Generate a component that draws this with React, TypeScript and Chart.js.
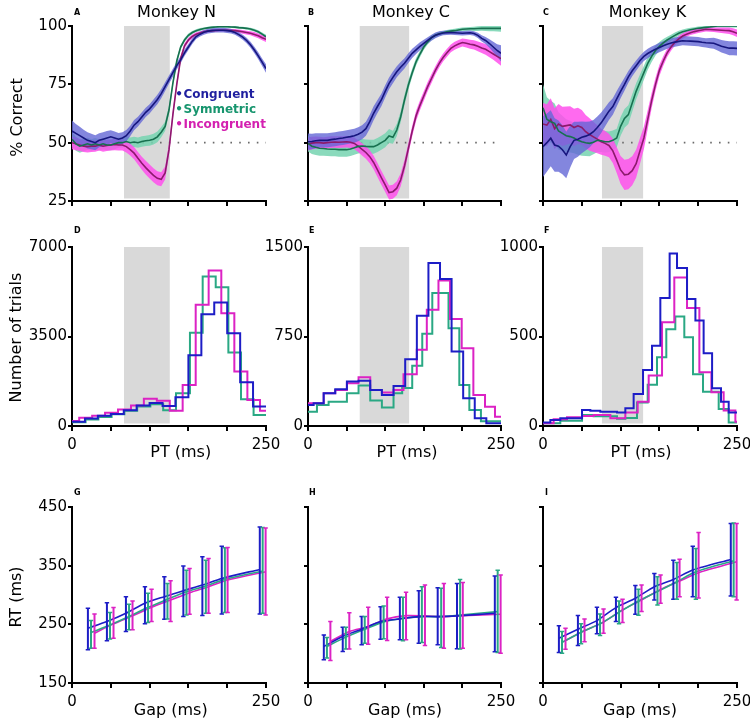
import React, { useEffect, useRef } from "react";
import { Chart, registerables } from "chart.js";
Chart.register(...registerables);

// ---------- shared axis values ----------
const PT = [0,5,10,15,20,25,30,35,40,45,50,55,60,65,70,75,80,85,90,95,100,105,110,115,120,125,130,135,140,145,150,155,160,165,170,175,180,185,190,195,200,205,210,215,220,225,230,235,240,245,250];

// ---------- Row 1: % correct vs PT (mean and s.e. half-width) ----------
const A_CONG = [55,54,53,52,51,50.5,50,51,51.5,52,52.5,52,51.5,52,53,55,57.5,59,61,63,64.5,66.5,68.5,71,74,77,80,83,85.5,88.5,91,93.5,95.5,96.5,97.3,97.8,98,98.2,98.2,98.2,98,97.8,97.2,96.3,95.2,93.8,92,89.7,87.2,84.5,81.8];
const A_CONG_SE = [4.5,4,3.8,3.5,3.5,3.3,3.2,3,3,3,2.8,2.8,2.6,2.5,2.4,2.3,2.2,2.1,2,2,2,2,2,2,1.9,1.8,1.7,1.6,1.5,1.4,1.3,1.2,1.1,1,1,1,1,1,1,1,1,1,1,1,1.1,1.2,1.3,1.4,1.5,1.6,1.8];
const A_SYM = [51.5,49.5,48.5,49,49.5,49,49.5,49,49.5,49,49,49.5,50,50,50.5,50,50.3,50,50.5,50.8,51,51.5,52.5,54.5,57,64,75.5,85,91,94,96,97.2,98,98.5,98.9,99.2,99.4,99.6,99.7,99.7,99.7,99.6,99.5,99.3,99.2,99,98.7,98.2,97.5,96.5,95.4];
const A_SYM_SE = [3,3,2.8,2.7,2.6,2.5,2.5,2.4,2.4,2.3,2.3,2.3,2.2,2.2,2.2,2.2,2.2,2.2,2.2,2.2,2.3,2.3,2.3,2.2,2,1.8,1.5,1.2,1,0.9,0.8,0.7,0.6,0.6,0.5,0.5,0.5,0.5,0.5,0.5,0.5,0.5,0.5,0.5,0.5,0.5,0.6,0.6,0.7,0.7,0.8];
const A_INC = [50,49.5,49,48.5,48.3,48.5,48.5,49,48.5,48.8,49,49.2,49,49,48.3,47,45.5,43.3,41.2,39.3,37.6,36,34.7,34.3,37,47,62,75,86,91.5,94,95.5,96.5,97,97.5,97.8,98,98.1,98.2,98.2,98.2,98.1,98,97.8,97.5,97.2,96.9,96.4,95.8,95,94.3];
const A_INC_SE = [2.8,2.7,2.6,2.5,2.5,2.5,2.4,2.4,2.4,2.4,2.4,2.4,2.4,2.4,2.5,2.5,2.6,2.7,2.8,2.9,3,3,3,3,2.8,2.5,2,1.6,1.3,1.1,1,0.9,0.8,0.7,0.7,0.6,0.6,0.6,0.6,0.6,0.6,0.6,0.7,0.7,0.8,0.8,0.9,1,1,1.1,1.2];

const B_CONG = [50.4,50.5,50.8,51,51,51,51.3,51.5,51.8,52,52.3,52.6,53,53.6,54.5,56,59,62.6,65.5,68.3,72,75.4,78,80.4,82.3,84,86.2,88.3,89.8,91.3,92.6,93.8,95,96,96.6,97,97.1,97.2,97.1,97,96.9,97,97.1,96.8,96,94.7,93.8,92.5,91,89.5,88.3];
const B_CONG_SE = [3.5,3.3,3.2,3,3,3,3,3,3,3,3,3,3,3,3,3,3,3,2.8,2.7,2.6,2.5,2.5,2.4,2.3,2.2,2.1,2,1.8,1.7,1.5,1.4,1.3,1.2,1.1,1,1,1,1,1,1,1,1,1,1.1,1.3,1.5,1.8,2.2,2.7,3.5];
const B_SYM = [49.7,48.5,48,47.6,47.5,47.3,47.2,47.2,47,47,47,47.3,47.8,48.4,48.6,48.4,48.3,48.3,49,50,51,52.9,52.3,55.4,61,68.3,74.7,80,84.7,88,91,93.2,95,96,96.7,97.1,97.5,97.8,98,98.3,98.6,98.7,98.8,98.8,98.9,99,99,99,99,99,99];
const B_SYM_SE = [3.5,3.4,3.3,3.2,3.1,3,3,3,3,3,3,3,3,3,3,3,3,3,3,3,3,3,2.8,2.6,2.4,2.2,2,1.8,1.6,1.4,1.2,1.1,1,0.9,0.8,0.8,0.8,0.8,0.8,0.8,0.8,0.8,0.8,0.9,1,1,1.1,1.2,1.3,1.4,1.5];
const B_INC = [49.4,49.8,50,50,49.8,50,50.2,50.3,50.2,50.3,50.4,50.2,49.7,48.5,47.1,45.8,44,41.5,38.3,35,31.9,28.6,29,30.5,34,40,47.5,55,61.5,66,70,74,77.5,81,84,86.5,88.5,90.4,91.5,92.3,92.9,92.6,92.2,91.9,91.3,90.6,90,89,88,87,86];
const B_INC_SE = [2.8,2.7,2.6,2.5,2.5,2.5,2.5,2.5,2.5,2.5,2.5,2.5,2.5,2.5,2.6,2.7,2.8,2.9,3,3,3,3,3,3,2.8,2.6,2.4,2.3,2.2,2.1,2,2,1.9,1.8,1.8,1.7,1.7,1.7,1.7,1.7,1.7,1.8,1.9,2,2.1,2.2,2.3,2.4,2.5,2.7,3];

const C_CONG = [48.3,50,51.9,49,48.5,47,44.7,48.3,51,51.5,52.3,52.8,53.5,54.7,56.5,58.5,61,63.5,65.5,68.8,72,75,78.2,80.8,83,85.2,87,88.2,89.2,90,90.8,91.5,92.2,92.7,93.1,93.4,93.7,93.6,93.5,93.4,93.3,93,92.8,92.7,92.6,92,91.3,90.9,90.5,90.5,90.4];
const C_CONG_SE = [13,12.5,12,11.5,11,10.5,10,9,8,7.5,6.8,6.2,5.6,5,4.7,4.4,4.1,3.8,3.5,3.3,3,2.8,2.5,2.3,2.2,2,2,2,2,2,2,2,2,2,2,2,2,2,2,2,2,2,2,2.2,2.4,2.5,2.7,2.8,3,3,3];
const C_SYM = [65,60,59,58.3,55,54,53,52.6,52,51,50.4,50,49.7,50.2,51,50.8,50.4,50.4,51,52,57,60.4,62,67,72,76,80,84,87,89.5,91.3,92.8,94,95,96,96.9,97.5,98,98.4,98.7,99,99.2,99.4,99.6,99.8,100,100,100,100,100,100];
const C_SYM_SE = [10,9.5,9,8.5,8,7.5,7,6.8,6.5,6.2,6,5.7,5.5,5.2,5,4.8,4.6,4.4,4.2,4,4,4,4,3.8,3.5,3.2,3,2.7,2.4,2.1,1.8,1.6,1.4,1.3,1.2,1.1,1,0.9,0.9,0.8,0.8,0.7,0.7,0.6,0.6,0.6,0.6,0.6,0.6,0.6,0.6];
const C_INC = [58,57.5,60,56,58,57,57.3,57.6,56.5,57.2,56.5,54.7,53.5,52.5,51.5,50.4,49.7,48.8,46.5,42.5,38.3,36.2,36.5,38,41,46.5,52,60,68,75,81,85,88.5,91,93,94.5,95.7,96.5,97.1,97.6,98,98.3,98.6,98.5,98.4,98.3,98.2,98.1,98,97.5,96.9];
const C_INC_SE = [9,9,9,8.8,8.6,8.4,8.2,8,8,7.8,7.5,7.2,7,6.5,6,5.6,5.3,5,5.2,5.5,6,6.5,6.5,6.2,6,5.5,4.8,4,3.3,2.8,2.4,2,1.8,1.6,1.4,1.3,1.2,1.1,1,1,1,1,1,1,1,1.1,1.2,1.3,1.4,1.5,1.6];

// shaded PT windows (ms) per monkey
const SHADE_N = [67, 126];
const SHADE_C = [67, 131];
const SHADE_K = [76, 129];
const CHANCE = 50;

// ---------- Row 2: PT histograms (bin edges in ms, counts) ----------
const D_CONG_EDGES = [0,16.7,33.3,50,66.7,83.3,100,116.7,133.3,150,166.7,183.3,200,216.7,233.3,250];
const D_CONG_N = [170,290,400,470,620,800,900,780,1120,2770,4370,4830,3630,1710,760];
const D_SYM_EDGES = [0,17.5,34,51,67.5,84,101,117.5,134,152,168.4,185.2,201.5,217.8,234,250];
const D_SYM_N = [150,250,350,460,600,760,850,620,1280,3650,5850,5430,2870,1045,430];
const D_INC_EDGES = [0,9.3,26,42.6,59.3,76,92.6,109.3,126,142.6,159.4,176.1,192.4,209.2,226,242.3,250];
const D_INC_N = [200,320,400,520,650,800,1070,990,600,1606,4740,6085,4414,2127,1018,600];

const E_CONG_EDGES = [0,7.3,20.3,35.3,50.4,65.5,80.6,95.7,110.8,125.9,141,156,171,186,201,216,231,250];
const E_CONG_N = [176,190,274,308,372,380,302,260,336,560,923,1366,1231,624,232,64,22];
const E_SYM_EDGES = [0,11.6,26.7,50.4,65.5,80.6,95.7,110.8,122,135,148,161,182,196,209,224,250];
const E_SYM_N = [120,176,204,274,339,213,154,274,319,504,772,1114,820,344,134,40];
const E_INC_EDGES = [0,20.3,35.3,50.4,65.5,80.6,95.7,110.8,123.7,140.9,153.9,169,184,199.1,214.2,229.3,242.2,250];
const E_INC_N = [190,274,302,358,409,302,280,302,434,638,974,1220,896,652,260,162,78];

const F_CONG_EDGES = [0,9.5,22.3,50.3,61,73.9,95.4,106.1,116.8,128.9,140.5,151.2,163.2,172.7,185.6,196.4,207,217.9,229.4,239.3,250];
const F_CONG_N = [19,34,43,90,85,80,76,99,179,313,448,715,963,883,709,590,407,211,136,75];
const F_SYM_EDGES = [0,22.3,50.3,65.3,95.4,106.1,121.1,134.9,146.9,158.9,170.5,182.1,193.3,206.2,226.4,239.3,250];
const F_SYM_N = [15,30,62,55,40,45,131,230,384,541,612,496,289,192,95,19];
const F_INC_EDGES = [0,13.7,30.9,50.3,65.3,86.8,106.1,122,136.2,153.4,169.2,185.6,201.5,217,232.8,247.9,250];
const F_INC_N = [15,38,49,56,62,43,75,136,282,580,830,659,300,188,86,24];

// ---------- Row 3: RT vs gap (mean, lower and upper error) ----------
const GAP_CONG = [20.5,45,69.5,94,119,143.5,168,193,242];
const GAP_SYM = [24.5,49,73.5,98,123,147.5,172.5,197,245.7];
const GAP_INC = [29,53.5,78,102.5,127,151.5,176,200.5,249.5];

const G_CONG = [243.4,254.7,268.9,285.9,297.2,307.4,317,328.3,343.6];
const G_CONG_HI = [277.4,287,297.2,314.2,331.1,349.3,365.1,383.2,416];
const G_CONG_LO = [206.6,222,237.7,250.8,258.7,263.2,264.9,267.7,267.7];
const G_SYM = [236,249,263.2,279,292.7,305.7,315.3,326.6,340.8];
const G_SYM_HI = [256.4,270,284.2,302.8,319.8,342.4,359.4,380.4,414.9];
const G_SYM_LO = [209.4,224.8,240.6,253,259.3,266,268.9,270,268.9];
const G_INC = [234.9,250.8,264.4,279,291.5,304,314.2,325.5,339.6];
const G_INC_HI = [267.7,278.5,289.8,309.6,324.3,345.3,362.3,381,414.3];
const G_INC_LO = [209.4,226.4,240.6,255,254.7,267.2,268.9,270,266];

const H_CONG = [212.3,229.3,241.7,254.7,259.3,263.2,263.2,264.4,268.9];
const H_CONG_HI = [232,245,263.2,280.1,296.1,307.4,312.5,319.8,332.3];
const H_CONG_LO = [189.6,203.8,215.1,224.7,223.6,217.9,215.1,208.3,203.2];
const H_SYM = [212.3,228.2,241.7,254.2,260.4,263.2,263.2,266,271.7];
const H_SYM_HI = [227.6,245.2,263.2,281.3,296.1,314.2,311.3,326.6,342.4];
const H_SYM_LO = [192.5,207.8,217.9,225.3,222,219.1,210.6,207.8,202];
const H_INC = [220.8,237.8,246.2,259.3,264.9,264.4,263.2,264.9,267.2];
const H_INC_HI = [254.7,269.9,279,296.1,304.6,317,319.8,321.5,334];
const H_INC_LO = [188.5,207.8,216.2,222.5,223.6,214,209.4,209.4,200.8];

const I_CONG = [226.4,241.7,256.4,278.5,294.4,314.2,326.6,342.5,360.6];
const I_CONG_HI = [247.4,264.9,279,296,316,336.8,359.4,383.2,421.7];
const I_CONG_LO = [202,214,233.8,254.7,267.2,291.5,292.7,297.2,298.3];
const I_SYM = [219,236.6,250.8,270.6,289.8,305.7,322.6,339.6,358.3];
const I_SYM_HI = [237.8,250.8,267.7,289.8,309.6,331,355.5,379.3,422.8];
const I_SYM_LO = [200.8,217,231,250.8,265.5,283,292.7,292.7,297.2];
const I_INC = [222.5,239,253.7,274.6,291.6,309.6,323.8,337.9,356.6];
const I_INC_HI = [243.4,259.3,276.3,292.7,317,334,361.1,406.4,421.7];
const I_INC_LO = [207.7,220.2,235,253,271.7,285.9,297.2,295,291.5];

// ---------- styles ----------
const FF = '"DejaVu Sans", "Liberation Sans", sans-serif';
const LINE1 = { cong: "#16167e", sym: "#17704f", inc: "#8c1a6c" };
const BAND1 = { cong: "rgba(100,104,214,0.8)", sym: "rgba(118,212,176,0.85)", inc: "rgba(255,80,236,0.85)" };
const COL = { cong: "#1d1dc6", sym: "#2aa884", inc: "#dc22c4" };

type TextItem = { t: string; x: number; y: number; font: string; color?: string; align?: CanvasTextAlign; base?: CanvasTextBaseline; rot?: boolean };

function bandSets(mean: number[], se: number[], color: string, order: number) {
  return [
    { data: PT.map((x, i) => ({ x, y: mean[i] - se[i] })), borderColor: "rgba(0,0,0,0)", borderWidth: 0, pointRadius: 0, fill: false, order },
    { data: PT.map((x, i) => ({ x, y: mean[i] + se[i] })), borderColor: "rgba(0,0,0,0)", borderWidth: 0, pointRadius: 0, fill: "-1", backgroundColor: color, order },
  ];
}
function meanLine(mean: number[], color: string, order: number) {
  return { data: PT.map((x, i) => ({ x, y: mean[i] })), borderColor: color, borderWidth: 1.6, pointRadius: 0, fill: false, order };
}
function row1Sets(c: number[], cs: number[], s: number[], ss: number[], inc: number[], is: number[]) {
  return [
    meanLine(c, LINE1.cong, 0),
    meanLine(s, LINE1.sym, 1),
    meanLine(inc, LINE1.inc, 2),
    ...bandSets(c, cs, BAND1.cong, 3),
    ...bandSets(inc, is, BAND1.inc, 4),
    ...bandSets(s, ss, BAND1.sym, 5),
    { data: [{ x: 0, y: CHANCE }, { x: 250, y: CHANCE }], borderColor: "#6a6a6a", borderWidth: 1.6, borderDash: [1.6, 7.2], pointRadius: 0, fill: false, order: 6 },
  ];
}
function stepPts(edges: number[], counts: number[]) {
  const pts: { x: number; y: number }[] = [];
  counts.forEach((c, i) => { pts.push({ x: edges[i], y: c }); pts.push({ x: edges[i + 1], y: c }); });
  return pts;
}
function histSet(edges: number[], counts: number[], color: string, order: number) {
  return { data: stepPts(edges, counts), borderColor: color, borderWidth: 2, pointRadius: 0, fill: false, tension: 0, order };
}
function rtSet(gaps: number[], mean: number[], lo: number[], hi: number[], color: string, order: number) {
  return { data: gaps.map((x, i) => ({ x, y: mean[i] })), errLo: lo, errHi: hi, borderColor: color, borderWidth: 1.6, pointRadius: 0, fill: false, tension: 0.25, order };
}

type Spec = {
  cl: number; ct: number; cw: number; ch: number;
  L: number; T: number; R: number; B: number;
  yMin: number; yMax: number; yStep: number;
  showY: boolean; showX: boolean;
  datasets: any[]; shade?: number[]; texts: TextItem[];
};

const COLS = [
  { cl: 0, cw: 280, L: 72, R: 266 },
  { cl: 236, cw: 279, L: 308, R: 501 },
  { cl: 471, cw: 279, L: 543, R: 737 },
];
const ROWS = [
  { ct: 0, ch: 215, T: 26, B: 201 },
  { ct: 215, ch: 250, T: 247, B: 426 },
  { ct: 470, ch: 252, T: 507, B: 683 },
];

const TITLE = `16px ${FF}`;
const LET = `bold 8px ${FF}`;
const LEG = `bold 12px ${FF}`;

function spec(r: number, c: number, rest: Omit<Spec, "cl" | "ct" | "cw" | "ch" | "L" | "T" | "R" | "B">): Spec {
  return { ...COLS[c], ...ROWS[r], ...rest } as Spec;
}

const SPECS: Spec[] = [
  spec(0, 0, {
    yMin: 25, yMax: 100, yStep: 25, showY: true, showX: false, shade: SHADE_N,
    datasets: row1Sets(A_CONG, A_CONG_SE, A_SYM, A_SYM_SE, A_INC, A_INC_SE),
    texts: [
      { t: "Monkey N", x: 176.5, y: 17, font: TITLE, align: "center" },
      { t: "A", x: 74, y: 15, font: LET },
      { t: "% Correct", x: 18, y: 117.5, font: TITLE, rot: true },
      { t: "•", x: 179, y: 97.5, font: LEG, color: "#1f1f9f", align: "center" },
      { t: "Congruent", x: 183.5, y: 97.7, font: LEG, color: "#1f1f9f" },
      { t: "•", x: 179, y: 113.2, font: LEG, color: "#17956e", align: "center" },
      { t: "Symmetric", x: 183.5, y: 113.3, font: LEG, color: "#17956e" },
      { t: "•", x: 179, y: 128.2, font: LEG, color: "#d420b0", align: "center" },
      { t: "Incongruent", x: 183.5, y: 128.3, font: LEG, color: "#d420b0" },
    ],
  }),
  spec(0, 1, {
    yMin: 25, yMax: 100, yStep: 25, showY: false, showX: false, shade: SHADE_C,
    datasets: row1Sets(B_CONG, B_CONG_SE, B_SYM, B_SYM_SE, B_INC, B_INC_SE),
    texts: [
      { t: "Monkey C", x: 411, y: 17, font: TITLE, align: "center" },
      { t: "B", x: 308, y: 15, font: LET },
    ],
  }),
  spec(0, 2, {
    yMin: 25, yMax: 100, yStep: 25, showY: false, showX: false, shade: SHADE_K,
    datasets: row1Sets(C_CONG, C_CONG_SE, C_SYM, C_SYM_SE, C_INC, C_INC_SE),
    texts: [
      { t: "Monkey K", x: 647.5, y: 17, font: TITLE, align: "center" },
      { t: "C", x: 543, y: 15, font: LET },
    ],
  }),
  spec(1, 0, {
    yMin: 0, yMax: 7000, yStep: 3500, showY: true, showX: true, shade: SHADE_N,
    datasets: [histSet(D_CONG_EDGES, D_CONG_N, COL.cong, 0), histSet(D_INC_EDGES, D_INC_N, COL.inc, 1), histSet(D_SYM_EDGES, D_SYM_N, COL.sym, 2)],
    texts: [
      { t: "D", x: 74, y: 233, font: LET },
      { t: "Number of trials", x: 17, y: 337.5, font: TITLE, rot: true },
      { t: "PT (ms)", x: 180.7, y: 456.5, font: TITLE, align: "center" },
    ],
  }),
  spec(1, 1, {
    yMin: 0, yMax: 1500, yStep: 750, showY: true, showX: true, shade: SHADE_C,
    datasets: [histSet(E_CONG_EDGES, E_CONG_N, COL.cong, 0), histSet(E_INC_EDGES, E_INC_N, COL.inc, 1), histSet(E_SYM_EDGES, E_SYM_N, COL.sym, 2)],
    texts: [
      { t: "E", x: 309, y: 233, font: LET },
      { t: "PT (ms)", x: 407, y: 456.5, font: TITLE, align: "center" },
    ],
  }),
  spec(1, 2, {
    yMin: 0, yMax: 1000, yStep: 500, showY: true, showX: true, shade: SHADE_K,
    datasets: [histSet(F_CONG_EDGES, F_CONG_N, COL.cong, 0), histSet(F_INC_EDGES, F_INC_N, COL.inc, 1), histSet(F_SYM_EDGES, F_SYM_N, COL.sym, 2)],
    texts: [
      { t: "F", x: 544, y: 233, font: LET },
      { t: "PT (ms)", x: 641, y: 456.5, font: TITLE, align: "center" },
    ],
  }),
  spec(2, 0, {
    yMin: 150, yMax: 450, yStep: 100, showY: true, showX: true,
    datasets: [
      rtSet(GAP_CONG, G_CONG, G_CONG_LO, G_CONG_HI, COL.cong, 0),
      rtSet(GAP_SYM, G_SYM, G_SYM_LO, G_SYM_HI, COL.sym, 1),
      rtSet(GAP_INC, G_INC, G_INC_LO, G_INC_HI, COL.inc, 2),
    ],
    texts: [
      { t: "G", x: 74, y: 495, font: LET },
      { t: "RT (ms)", x: 17, y: 597, font: TITLE, rot: true },
      { t: "Gap (ms)", x: 170.7, y: 715, font: TITLE, align: "center" },
    ],
  }),
  spec(2, 1, {
    yMin: 150, yMax: 450, yStep: 100, showY: false, showX: true,
    datasets: [
      rtSet(GAP_CONG, H_CONG, H_CONG_LO, H_CONG_HI, COL.cong, 0),
      rtSet(GAP_SYM, H_SYM, H_SYM_LO, H_SYM_HI, COL.sym, 1),
      rtSet(GAP_INC, H_INC, H_INC_LO, H_INC_HI, COL.inc, 2),
    ],
    texts: [
      { t: "H", x: 309, y: 495, font: LET },
      { t: "Gap (ms)", x: 405, y: 715, font: TITLE, align: "center" },
    ],
  }),
  spec(2, 2, {
    yMin: 150, yMax: 450, yStep: 100, showY: false, showX: true,
    datasets: [
      rtSet(GAP_CONG, I_CONG, I_CONG_LO, I_CONG_HI, COL.cong, 0),
      rtSet(GAP_SYM, I_SYM, I_SYM_LO, I_SYM_HI, COL.sym, 1),
      rtSet(GAP_INC, I_INC, I_INC_LO, I_INC_HI, COL.inc, 2),
    ],
    texts: [
      { t: "I", x: 545, y: 495, font: LET },
      { t: "Gap (ms)", x: 640, y: 715, font: TITLE, align: "center" },
    ],
  }),
];

function buildConfig(s: Spec): any {
  const axisGrid = { display: true, drawOnChartArea: false, drawTicks: true, tickLength: 5, color: "#000", lineWidth: 2 };
  const border = { display: true, color: "#000", width: 2 };
  const tickFont = { family: FF, size: 15 };
  return {
    type: "line",
    data: { datasets: s.datasets },
    options: {
      animation: false,
      responsive: false,
      devicePixelRatio: 1,
      events: [],
      layout: { padding: { left: 0, top: s.T - s.ct, right: s.cl + s.cw - s.R, bottom: 0 } },
      plugins: { legend: { display: false }, tooltip: { enabled: false }, title: { display: false } },
      elements: { point: { radius: 0 }, line: { tension: 0 } },
      scales: {
        x: {
          type: "linear", min: 0, max: 250,
          grid: axisGrid, border,
          ticks: {
            stepSize: 50, autoSkip: false, maxRotation: 0, minRotation: 0, padding: 5, color: "#000", font: tickFont,
            callback: (v: number) => (s.showX && (v === 0 || v === 250) ? String(v) : ""),
          },
          afterFit: (sc: any) => { sc.height = s.ct + s.ch - s.B; sc.paddingLeft = 0; sc.paddingRight = 0; },
        },
        y: {
          type: "linear", min: s.yMin, max: s.yMax,
          grid: { ...axisGrid, tickLength: 4 }, border,
          ticks: {
            stepSize: s.yStep, autoSkip: false, padding: 1, color: "#000", font: tickFont,
            callback: (v: number) => (s.showY ? String(v) : ""),
          },
          afterFit: (sc: any) => { sc.width = s.L - s.cl; sc.paddingTop = 0; sc.paddingBottom = 0; },
        },
      },
    },
    plugins: [
      {
        id: "shadeWindow",
        beforeDatasetsDraw(chart: any) {
          if (!s.shade) return;
          const { ctx, chartArea, scales } = chart;
          const x1 = scales.x.getPixelForValue(s.shade[0]);
          const x2 = scales.x.getPixelForValue(s.shade[1]);
          ctx.save();
          ctx.fillStyle = "#d9d9d9";
          ctx.fillRect(x1, chartArea.top, x2 - x1, chartArea.bottom - chartArea.top - 2.5);
          ctx.restore();
        },
      },
      {
        id: "errorBars",
        afterDatasetsDraw(chart: any) {
          const ctx = chart.ctx;
          const yS = chart.scales.y;
          chart.data.datasets.forEach((ds: any, di: number) => {
            if (!ds.errLo) return;
            const meta = chart.getDatasetMeta(di);
            ctx.save();
            ctx.strokeStyle = ds.borderColor;
            meta.data.forEach((pt: any, j: number) => {
              const x = pt.x;
              const y1 = yS.getPixelForValue(ds.errLo[j]);
              const y2 = yS.getPixelForValue(ds.errHi[j]);
              ctx.lineWidth = 2;
              ctx.beginPath(); ctx.moveTo(x, y1); ctx.lineTo(x, y2); ctx.stroke();
              ctx.lineWidth = 1.5;
              ctx.beginPath();
              ctx.moveTo(x - 2.2, y1); ctx.lineTo(x + 2.2, y1);
              ctx.moveTo(x - 2.2, y2); ctx.lineTo(x + 2.2, y2);
              ctx.stroke();
            });
            ctx.restore();
          });
        },
      },
      {
        id: "panelTexts",
        afterDraw(chart: any) {
          const ctx = chart.ctx;
          s.texts.forEach((it) => {
            ctx.save();
            ctx.font = it.font;
            ctx.fillStyle = it.color || "#000";
            const x = it.x - s.cl;
            const y = it.y - s.ct;
            if (it.rot) {
              ctx.translate(x, y);
              ctx.rotate(-Math.PI / 2);
              ctx.textAlign = "center";
              ctx.textBaseline = "middle";
              ctx.fillText(it.t, 0, 0);
            } else {
              ctx.textAlign = it.align || "left";
              ctx.textBaseline = it.base || "alphabetic";
              ctx.fillText(it.t, x, y);
            }
            ctx.restore();
          });
        },
      },
    ],
  };
}

function Panel({ s }: { s: Spec }) {
  const ref = useRef<HTMLCanvasElement>(null);
  useEffect(() => {
    const chart = new Chart(ref.current as HTMLCanvasElement, buildConfig(s));
    return () => chart.destroy();
  }, [s]);
  return (
    <canvas
      ref={ref}
      width={s.cw}
      height={s.ch}
      style={{ position: "absolute", left: s.cl, top: s.ct, width: s.cw, height: s.ch }}
    />
  );
}

export default function App() {
  return (
    <div style={{ position: "absolute", left: 0, top: 0, width: 750, height: 722, background: "#fff", overflow: "hidden" }}>
      {SPECS.map((s, i) => (
        <Panel key={i} s={s} />
      ))}
    </div>
  );
}
